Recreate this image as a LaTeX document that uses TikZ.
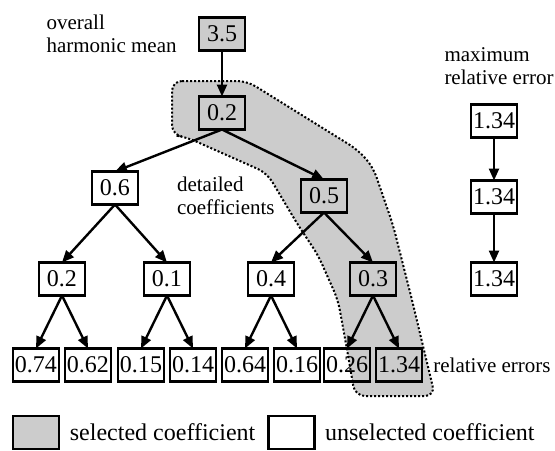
\documentclass[tikz,border=0pt]{standalone}
\usepackage{fontspec}
\setmainfont{Liberation Serif}
\usepackage{tikz}
\usetikzlibrary{positioning, arrows.meta}

\begin{document}
\begin{tikzpicture}[
    coef/.style={rectangle, draw, line width=1.3pt, minimum width=23pt, minimum height=16.5pt, inner sep=1pt, outer sep=0pt, font=\fontsize{12}{14}\selectfont},
    selcoef/.style={coef, fill=gray!40},
    plaincoef/.style={coef},
    note/.style={inner sep=0pt, align=left, font=\fontsize{10.5}{11.5}\selectfont},
    keytext/.style={inner sep=0pt, font=\fontsize{12}{14}\selectfont},
    link/.style={-{Triangle[length=6pt, width=5pt]}, line width=1.2pt},
    band/.style={fill=gray!40, draw=black, densely dotted, line width=1pt, rounded corners=5pt}
]

\useasboundingbox (-111pt,17pt) rectangle (166.5pt,-208pt);

% Band of selected coefficients (behind the tree)
\draw[band] (-25pt,-23.5pt) -- (12.5pt,-23.5pt) -- (68pt,-58pt) -- (75.5pt,-66.5pt)
    -- (85.5pt,-95.5pt) -- (95pt,-133pt) -- (106.5pt,-181pt) -- (66.5pt,-181pt)
    -- (63pt,-160.5pt) -- (58pt,-133pt) -- (48pt,-110.5pt) -- (38pt,-95.5pt)
    -- (22.5pt,-69.5pt) -- (-18pt,-51.5pt) -- (-25pt,-50.5pt) -- cycle;

% Overall mean and first coefficient
\node[selcoef] (mean) {3.5};
\node[selcoef, below=23pt of mean] (top) {0.2};

% Detailed coefficients
\node[plaincoef, below left=21pt and 30.5pt of top] (l) {0.6};
\node[selcoef, below right=25pt and 28pt of top] (r) {0.5};

\node[plaincoef, below left=29pt and 3.5pt of l] (ll) {0.2};
\node[plaincoef, below right=29pt and 3pt of l] (lr) {0.1};
\node[plaincoef, below left=25pt and 3.5pt of r] (rl) {0.4};
\node[selcoef, below right=25pt and 1.5pt of r] (rr) {0.3};

% Relative errors
\node[plaincoef, below=26.5pt of ll, xshift=-13pt] (e1) {0.74};
\node[plaincoef, below=26.5pt of ll, xshift=13pt] (e2) {0.62};
\node[plaincoef, below=26.5pt of lr, xshift=-13pt] (e3) {0.15};
\node[plaincoef, below=26.5pt of lr, xshift=13pt] (e4) {0.14};
\node[plaincoef, below=26.5pt of rl, xshift=-13pt] (e5) {0.64};
\node[plaincoef, below=26.5pt of rl, xshift=13pt] (e6) {0.16};
\node[plaincoef, below=26.5pt of rr, xshift=-13pt] (e7) {0.26};
\node[selcoef, below=26.5pt of rr, xshift=13pt] (e8) {1.34};

% Maximum relative error column
\node[plaincoef, right=113pt of top, yshift=-4pt] (m1) {1.34};
\node[plaincoef, below=21.5pt of m1] (m2) {1.34};
\node[plaincoef, below=24.5pt of m2] (m3) {1.34};

% Labels
\node[note, left=11pt of mean] (meanlbl) {overall\\harmonic mean};
\node[note, left=13pt of r] (detlbl) {detailed\\coefficients};
\node[note, above=9.5pt of m1, xshift=2.5pt] (maxlbl) {maximum\\relative error};
\node[note, right=5.5pt of e8] (errlbl) {relative errors};

% Legend
\node[selcoef, below=17.25pt of e1] (keysel) {};
\node[keytext, right=5.25pt of keysel] (keyseltxt) {selected coefficient};
\node[plaincoef, right=6.5pt of keyseltxt] (keyplain) {};
\node[keytext, right=5pt of keyplain] (keyplaintxt) {unselected coefficient};

% Edges
\draw[link] (mean) -- (top);
\draw[link] (top.south) -- (l.north);
\draw[link] (top.south) -- (r.north);
\draw[link] (l.south) -- (ll.north);
\draw[link] (l.south) -- (lr.north);
\draw[link] (r.south) -- (rl.north);
\draw[link] (r.south) -- (rr.north);
\draw[link] (ll.south) -- (e1.north);
\draw[link] (ll.south) -- (e2.north);
\draw[link] (lr.south) -- (e3.north);
\draw[link] (lr.south) -- (e4.north);
\draw[link] (rl.south) -- (e5.north);
\draw[link] (rl.south) -- (e6.north);
\draw[link] (rr.south) -- (e7.north);
\draw[link] (rr.south) -- (e8.north);
\draw[link] (m1) -- (m2);
\draw[link] (m2) -- (m3);

\end{tikzpicture}
\end{document}
